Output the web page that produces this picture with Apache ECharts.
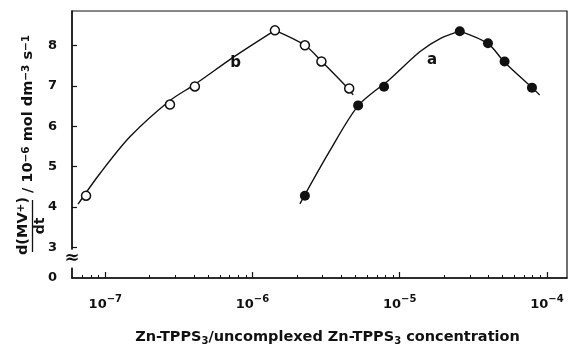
<!DOCTYPE html>
<html>
<head>
<meta charset="utf-8">
<script src="https://cdn.jsdelivr.net/npm/echarts@6/dist/echarts.min.js"></script>
<style>
  html, body { margin: 0; background: #fff; }
  #chart { width: 573px; height: 351px; }
</style>
</head>
<body>
<div id="chart"></div>
<script>
// measured points (b = open circles, a = filled circles)
const concB = [7.4e-8, 2.75e-7, 4.06e-7, 1.42e-6, 2.27e-6, 2.94e-6, 4.54e-6];
const rateB = [4.28, 6.54, 6.99, 8.38, 8.01, 7.61, 6.94];
const concA = [2.27e-6, 5.22e-6, 7.83e-6, 2.56e-5, 3.98e-5, 5.16e-5, 7.92e-5];
const rateA = [4.28, 6.52, 6.98, 8.36, 8.06, 7.61, 6.96];

// hand drawn curves (rising part, falling part)
const curveBUpX = [6.53e-8, 9.2e-8, 1.47e-7, 2.75e-7, 4.06e-7, 7.6e-7, 1.42e-6];
const curveBUpY = [4.07, 4.83, 5.74, 6.64, 7.04, 7.74, 8.38];
const curveBDownX = [1.42e-6, 2.27e-6, 2.97e-6, 4.51e-6, 4.83e-6];
const curveBDownY = [8.38, 8.01, 7.60, 6.92, 6.78];
const curveAUpX = [2.10e-6, 3.35e-6, 5.25e-6, 8.57e-6, 1.37e-5, 1.87e-5, 2.56e-5];
const curveAUpY = [4.08, 5.39, 6.52, 7.17, 7.85, 8.17, 8.36];
const curveADownX = [2.56e-5, 3.98e-5, 5.16e-5, 7.98e-5, 8.93e-5];
const curveADownY = [8.36, 8.05, 7.59, 6.95, 6.78];

// curve labels
const curveLabels = [[7.67e-7, 7.57, "b"], [1.66e-5, 7.64, "a"]];

const decades = [1e-7, 1e-6, 1e-5, 1e-4];
const minorTicks = [7e-8, 8e-8, 9e-8];
[1e-7, 1e-6, 1e-5].forEach((d) => {
  for (let m = 2; m <= 9; m++) minorTicks.push(m * d);
});
const yTicks = [3, 4, 5, 6, 7, 8];

const xMin = 5.94e-8;
const xMax = 1.37e-4;
const yMin = 2.24; // bottom of the broken axis, labelled "0"
const yMax = 8.86;

const INK = "#111";
const FONT = "DejaVu Sans";

const pair = (xs, ys) => xs.map((x, i) => [x, ys[i]]);

const curve = (name, xs, ys) => ({
  name,
  type: "line",
  data: pair(xs, ys),
  smooth: 0.3,
  showSymbol: false,
  lineStyle: { color: INK, width: 1.4 },
  z: 2,
});

const chart = echarts.init(document.getElementById("chart"));

chart.setOption({
  animation: false,
  backgroundColor: "#fff",
  textStyle: { fontFamily: FONT, color: INK },
  grid: {
    left: 72,
    right: 6,
    top: 11,
    bottom: 62,
    show: true,
    borderColor: INK,
    borderWidth: 1.2,
  },
  xAxis: [
    {
      type: "log",
      logBase: 10,
      min: xMin,
      max: xMax,
      axisLine: { lineStyle: { color: INK, width: 1.5 } },
      axisTick: { inside: true, length: 6, customValues: decades, lineStyle: { color: INK, width: 1.2 } },
      axisLabel: {
        customValues: decades,
        margin: 16,
        formatter: (v) => `{b|10}{s|−${-Math.round(Math.log10(v))}}`,
        rich: {
          b: { fontFamily: FONT, fontSize: 13, fontWeight: "bold", color: INK, lineHeight: 22 },
          s: { fontFamily: FONT, fontSize: 10, fontWeight: "bold", color: INK, verticalAlign: "top", lineHeight: 12 },
        },
      },
      splitLine: { show: false },
      minorTick: { show: false },
      name: "{t|Zn-TPPS}{u|3}{t|/uncomplexed Zn-TPPS}{u|3}{t| concentration}",
      nameLocation: "middle",
      nameGap: 50,
      nameTextStyle: {
        padding: [0, 0, 0, 16],
        rich: {
          t: { fontFamily: FONT, fontSize: 14.5, fontWeight: "bold", color: INK, lineHeight: 18 },
          u: { fontFamily: FONT, fontSize: 10, fontWeight: "bold", color: INK, verticalAlign: "bottom", lineHeight: 12 },
        },
      },
    },
    {
      type: "log",
      logBase: 10,
      min: xMin,
      max: xMax,
      position: "bottom",
      axisLine: { show: false },
      axisTick: { inside: true, length: 3, customValues: minorTicks, lineStyle: { color: INK, width: 1 } },
      axisLabel: { show: false },
      splitLine: { show: false },
    },
  ],
  yAxis: {
    type: "value",
    min: yMin,
    max: yMax,
    axisLine: { show: true, lineStyle: { color: INK, width: 1.5 } },
    axisTick: { show: true, inside: true, length: 5, customValues: yTicks, lineStyle: { color: INK, width: 1.2 } },
    axisLabel: {
      customValues: [yMin].concat(yTicks),
      margin: 15,
      fontFamily: FONT,
      fontSize: 13,
      fontWeight: "bold",
      color: INK,
      formatter: (v) => (v < 2.5 ? "0" : String(v)),
    },
    splitLine: { show: false },
  },
  series: [
    curve("curve b up", curveBUpX, curveBUpY),
    curve("curve b down", curveBDownX, curveBDownY),
    curve("curve a up", curveAUpX, curveAUpY),
    curve("curve a down", curveADownX, curveADownY),
    {
      name: "b",
      type: "scatter",
      data: pair(concB, rateB),
      symbol: "circle",
      symbolSize: 9,
      itemStyle: { color: "#fff", borderColor: INK, borderWidth: 1.5, opacity: 1 },
      z: 3,
    },
    {
      name: "a",
      type: "scatter",
      data: pair(concA, rateA),
      symbol: "circle",
      symbolSize: 10,
      itemStyle: { color: INK, opacity: 1 },
      z: 3,
    },
    {
      name: "labels",
      type: "scatter",
      data: curveLabels,
      symbolSize: 1,
      itemStyle: { color: "rgba(0,0,0,0)", opacity: 1 },
      label: {
        show: true,
        position: "inside",
        formatter: (p) => p.value[2],
        fontFamily: FONT,
        fontSize: 15,
        fontWeight: "bold",
        color: INK,
      },
      z: 3,
    },
  ],
});

// axis break mark and the rotated y title
const breakAt = chart.convertToPixel({ gridIndex: 0 }, [xMin, 2.72]);
const rot = Math.PI / 2;
const titleRich = {
  t: { fontFamily: FONT, fontSize: 14.5, fontWeight: "bold", fill: INK },
  s: { fontFamily: FONT, fontSize: 10.5, fontWeight: "bold", fill: INK, verticalAlign: "top", lineHeight: 10 },
};
chart.setOption({
  graphic: [
    {
      type: "text",
      x: breakAt[0],
      y: breakAt[1],
      style: {
        text: "≈",
        fontFamily: FONT,
        fontSize: 18,
        fontWeight: "bold",
        fill: INK,
        align: "center",
        verticalAlign: "middle",
        backgroundColor: "#fff",
      },
      z: 10,
    },
    {
      type: "text",
      x: 28,
      y: 193,
      rotation: rot,
      style: {
        text: "{t|/ 10}{s|−6}{t| mol dm}{s|−3}{t| s}{s|−1}",
        rich: titleRich,
        align: "left",
        verticalAlign: "middle",
      },
    },
    {
      type: "text",
      x: 23,
      y: 226,
      rotation: rot,
      style: {
        text: "{t|d(MV}{s|+}{t|)}",
        rich: titleRich,
        align: "center",
        verticalAlign: "middle",
      },
    },
    {
      type: "line",
      shape: { x1: 32.5, y1: 200, x2: 32.5, y2: 252 },
      style: { stroke: INK, lineWidth: 1.3 },
    },
    {
      type: "text",
      x: 40,
      y: 226,
      rotation: rot,
      style: {
        text: "dt",
        fontFamily: FONT,
        fontSize: 14,
        fontWeight: "bold",
        fill: INK,
        align: "center",
        verticalAlign: "middle",
      },
    },
  ],
});
</script>
</body>
</html>
